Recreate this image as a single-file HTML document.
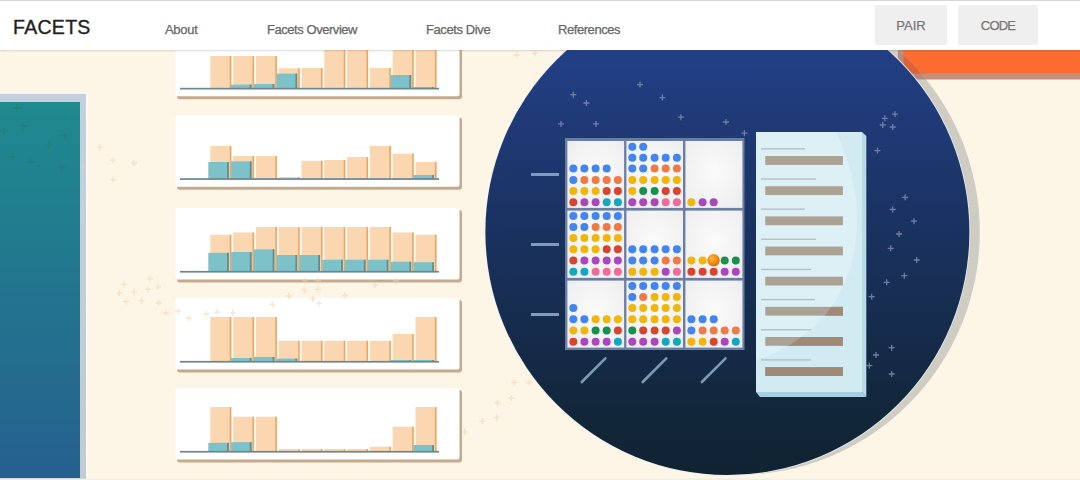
<!DOCTYPE html>
<html><head><meta charset="utf-8"><style>
html,body{margin:0;padding:0;}
body{width:1080px;height:480px;overflow:hidden;background:#fdf5e6;position:relative;font-family:"Liberation Sans",sans-serif;}
svg{position:absolute;left:0;top:0;}
#hdr{position:absolute;left:0;top:0;width:1080px;height:50px;background:#fff;border-top:1px solid #d6d6d6;box-sizing:border-box;box-shadow:0 1px 1.5px rgba(80,80,80,0.22);}
#logo{position:absolute;left:13px;top:15px;font-size:19.5px;color:#222;letter-spacing:0.3px;-webkit-text-stroke:0.35px #222;}
.nav{position:absolute;top:21px;font-size:13px;color:#666;-webkit-text-stroke:0.25px #666;}
.btn{position:absolute;top:4px;height:40px;background:#efefef;border-radius:2px;color:#767676;font-size:13px;-webkit-text-stroke:0.25px #767676;text-align:center;line-height:41px;}
</style></head><body>
<svg width="1080" height="480" viewBox="0 0 1080 480">
<defs>
<linearGradient id="bg1" x1="0" y1="0" x2="0" y2="1">
<stop offset="0" stop-color="#24438f"/><stop offset="0.13" stop-color="#223f85"/>
<stop offset="0.55" stop-color="#19305a"/><stop offset="0.92" stop-color="#112536"/><stop offset="1" stop-color="#0f2333"/>
</linearGradient>
<linearGradient id="tg" x1="0" y1="0" x2="0" y2="1">
<stop offset="0" stop-color="#1f8a8f"/><stop offset="1" stop-color="#26608e"/>
</linearGradient>
<radialGradient id="ball" cx="0.38" cy="0.35" r="0.7">
<stop offset="0" stop-color="#f9b43a"/><stop offset="0.6" stop-color="#f08a12"/><stop offset="1" stop-color="#dc6410"/>
</radialGradient>
<radialGradient id="cellg" cx="0.5" cy="0.45" r="0.7">
<stop offset="0" stop-color="#fbfbfb"/><stop offset="1" stop-color="#ededed"/>
</radialGradient>
<linearGradient id="bordg" x1="0" y1="0" x2="0" y2="1"><stop offset="0" stop-color="#c5cfde"/><stop offset="1" stop-color="#c4cbcb"/></linearGradient>
<clipPath id="docclip"><rect x="756" y="132" width="106" height="260"/></clipPath>
</defs>
<rect x="0" y="92.2" width="87.5" height="388" fill="#fbfbf8"/><rect x="0" y="93.8" width="86" height="386" fill="url(#bordg)"/>
<rect x="0" y="102" width="80" height="376" fill="url(#tg)"/>
<rect x="0" y="478.7" width="1080" height="1.3" fill="#efeeea"/>
<rect x="177" y="27" width="285" height="72.3" rx="3" fill="#c5ab8e"/>
<rect x="175.5" y="25" width="284" height="71.3" rx="2" fill="#ffffff"/>
<rect x="210.3" y="56" width="21" height="32.6" fill="#fad6b1"/>
<rect x="229.7" y="56" width="1.6" height="32.6" fill="#f0a660"/>
<rect x="233.1" y="56" width="21" height="32.6" fill="#fad6b1"/>
<rect x="252.5" y="56" width="1.6" height="32.6" fill="#f0a660"/>
<rect x="255.9" y="56" width="21" height="32.6" fill="#fad6b1"/>
<rect x="275.3" y="56" width="1.6" height="32.6" fill="#f0a660"/>
<rect x="278.7" y="68.3" width="21" height="20.3" fill="#fad6b1"/>
<rect x="298.1" y="68.3" width="1.6" height="20.3" fill="#f0a660"/>
<rect x="301.5" y="68" width="21" height="20.6" fill="#fad6b1"/>
<rect x="320.9" y="68" width="1.6" height="20.6" fill="#f0a660"/>
<rect x="324.3" y="28.6" width="21" height="60" fill="#fad6b1"/>
<rect x="343.7" y="28.6" width="1.6" height="60" fill="#f0a660"/>
<rect x="347.1" y="28.6" width="21" height="60" fill="#fad6b1"/>
<rect x="366.5" y="28.6" width="1.6" height="60" fill="#f0a660"/>
<rect x="369.9" y="68" width="21" height="20.6" fill="#fad6b1"/>
<rect x="389.3" y="68" width="1.6" height="20.6" fill="#f0a660"/>
<rect x="392.7" y="28.6" width="21" height="60" fill="#fad6b1"/>
<rect x="412.1" y="28.6" width="1.6" height="60" fill="#f0a660"/>
<rect x="415.5" y="28.6" width="21" height="60" fill="#fad6b1"/>
<rect x="434.9" y="28.6" width="1.6" height="60" fill="#f0a660"/>
<rect x="231.1" y="84.6" width="20.5" height="4" fill="#7dc2c8"/>
<rect x="249.8" y="84.6" width="1.8" height="4" fill="#5b8f94"/>
<rect x="253.9" y="84" width="20.5" height="4.6" fill="#7dc2c8"/>
<rect x="272.6" y="84" width="1.8" height="4.6" fill="#5b8f94"/>
<rect x="276.7" y="73.6" width="20.5" height="15" fill="#7dc2c8"/>
<rect x="295.4" y="73.6" width="1.8" height="15" fill="#5b8f94"/>
<rect x="390.7" y="75" width="20.5" height="13.6" fill="#7dc2c8"/>
<rect x="409.4" y="75" width="1.8" height="13.6" fill="#5b8f94"/>
<rect x="413.5" y="87" width="20.5" height="1.6" fill="#7dc2c8"/>
<rect x="432.2" y="87" width="1.8" height="1.6" fill="#5b8f94"/>
<rect x="180" y="87.8" width="259" height="1.7" fill="#6a8594"/>
<rect x="177" y="117.4" width="285" height="72.3" rx="3" fill="#c5ab8e"/>
<rect x="175.5" y="115.4" width="284" height="71.3" rx="2" fill="#ffffff"/>
<rect x="210.3" y="146" width="21" height="33" fill="#fad6b1"/>
<rect x="229.7" y="146" width="1.6" height="33" fill="#f0a660"/>
<rect x="233.1" y="156" width="21" height="23" fill="#fad6b1"/>
<rect x="252.5" y="156" width="1.6" height="23" fill="#f0a660"/>
<rect x="255.9" y="156" width="21" height="23" fill="#fad6b1"/>
<rect x="275.3" y="156" width="1.6" height="23" fill="#f0a660"/>
<rect x="278.7" y="177" width="21" height="2" fill="#fad6b1"/>
<rect x="298.1" y="177" width="1.6" height="2" fill="#f0a660"/>
<rect x="301.5" y="160.8" width="21" height="18.2" fill="#fad6b1"/>
<rect x="320.9" y="160.8" width="1.6" height="18.2" fill="#f0a660"/>
<rect x="324.3" y="160" width="21" height="19" fill="#fad6b1"/>
<rect x="343.7" y="160" width="1.6" height="19" fill="#f0a660"/>
<rect x="347.1" y="157" width="21" height="22" fill="#fad6b1"/>
<rect x="366.5" y="157" width="1.6" height="22" fill="#f0a660"/>
<rect x="369.9" y="146" width="21" height="33" fill="#fad6b1"/>
<rect x="389.3" y="146" width="1.6" height="33" fill="#f0a660"/>
<rect x="392.7" y="153.7" width="21" height="25.3" fill="#fad6b1"/>
<rect x="412.1" y="153.7" width="1.6" height="25.3" fill="#f0a660"/>
<rect x="415.5" y="162" width="21" height="17" fill="#fad6b1"/>
<rect x="434.9" y="162" width="1.6" height="17" fill="#f0a660"/>
<rect x="208.3" y="162" width="20.5" height="17" fill="#7dc2c8"/>
<rect x="227" y="162" width="1.8" height="17" fill="#5b8f94"/>
<rect x="231.1" y="161.4" width="20.5" height="17.6" fill="#7dc2c8"/>
<rect x="249.8" y="161.4" width="1.8" height="17.6" fill="#5b8f94"/>
<rect x="413.5" y="175" width="20.5" height="4" fill="#7dc2c8"/>
<rect x="432.2" y="175" width="1.8" height="4" fill="#5b8f94"/>
<rect x="180" y="178.2" width="259" height="1.7" fill="#6a8594"/>
<rect x="177" y="210.1" width="285" height="72.3" rx="3" fill="#c5ab8e"/>
<rect x="175.5" y="208.1" width="284" height="71.3" rx="2" fill="#ffffff"/>
<rect x="210.3" y="234.7" width="21" height="37" fill="#fad6b1"/>
<rect x="229.7" y="234.7" width="1.6" height="37" fill="#f0a660"/>
<rect x="233.1" y="232.5" width="21" height="39.2" fill="#fad6b1"/>
<rect x="252.5" y="232.5" width="1.6" height="39.2" fill="#f0a660"/>
<rect x="255.9" y="227" width="21" height="44.7" fill="#fad6b1"/>
<rect x="275.3" y="227" width="1.6" height="44.7" fill="#f0a660"/>
<rect x="278.7" y="227" width="21" height="44.7" fill="#fad6b1"/>
<rect x="298.1" y="227" width="1.6" height="44.7" fill="#f0a660"/>
<rect x="301.5" y="227" width="21" height="44.7" fill="#fad6b1"/>
<rect x="320.9" y="227" width="1.6" height="44.7" fill="#f0a660"/>
<rect x="324.3" y="227" width="21" height="44.7" fill="#fad6b1"/>
<rect x="343.7" y="227" width="1.6" height="44.7" fill="#f0a660"/>
<rect x="347.1" y="227" width="21" height="44.7" fill="#fad6b1"/>
<rect x="366.5" y="227" width="1.6" height="44.7" fill="#f0a660"/>
<rect x="369.9" y="227" width="21" height="44.7" fill="#fad6b1"/>
<rect x="389.3" y="227" width="1.6" height="44.7" fill="#f0a660"/>
<rect x="392.7" y="232.5" width="21" height="39.2" fill="#fad6b1"/>
<rect x="412.1" y="232.5" width="1.6" height="39.2" fill="#f0a660"/>
<rect x="415.5" y="234.7" width="21" height="37" fill="#fad6b1"/>
<rect x="434.9" y="234.7" width="1.6" height="37" fill="#f0a660"/>
<rect x="208.3" y="252.8" width="20.5" height="18.9" fill="#7dc2c8"/>
<rect x="227" y="252.8" width="1.8" height="18.9" fill="#5b8f94"/>
<rect x="231.1" y="252" width="20.5" height="19.7" fill="#7dc2c8"/>
<rect x="249.8" y="252" width="1.8" height="19.7" fill="#5b8f94"/>
<rect x="253.9" y="249.4" width="20.5" height="22.3" fill="#7dc2c8"/>
<rect x="272.6" y="249.4" width="1.8" height="22.3" fill="#5b8f94"/>
<rect x="276.7" y="255" width="20.5" height="16.7" fill="#7dc2c8"/>
<rect x="295.4" y="255" width="1.8" height="16.7" fill="#5b8f94"/>
<rect x="299.5" y="255" width="20.5" height="16.7" fill="#7dc2c8"/>
<rect x="318.2" y="255" width="1.8" height="16.7" fill="#5b8f94"/>
<rect x="322.3" y="259.7" width="20.5" height="12" fill="#7dc2c8"/>
<rect x="341" y="259.7" width="1.8" height="12" fill="#5b8f94"/>
<rect x="345.1" y="259.7" width="20.5" height="12" fill="#7dc2c8"/>
<rect x="363.8" y="259.7" width="1.8" height="12" fill="#5b8f94"/>
<rect x="367.9" y="259.7" width="20.5" height="12" fill="#7dc2c8"/>
<rect x="386.6" y="259.7" width="1.8" height="12" fill="#5b8f94"/>
<rect x="390.7" y="261.7" width="20.5" height="10" fill="#7dc2c8"/>
<rect x="409.4" y="261.7" width="1.8" height="10" fill="#5b8f94"/>
<rect x="413.5" y="262.2" width="20.5" height="9.5" fill="#7dc2c8"/>
<rect x="432.2" y="262.2" width="1.8" height="9.5" fill="#5b8f94"/>
<rect x="180" y="270.9" width="259" height="1.7" fill="#6a8594"/>
<rect x="177" y="300.1" width="285" height="72.3" rx="3" fill="#c5ab8e"/>
<rect x="175.5" y="298.1" width="284" height="71.3" rx="2" fill="#ffffff"/>
<rect x="210.3" y="317" width="21" height="44.7" fill="#fad6b1"/>
<rect x="229.7" y="317" width="1.6" height="44.7" fill="#f0a660"/>
<rect x="233.1" y="317" width="21" height="44.7" fill="#fad6b1"/>
<rect x="252.5" y="317" width="1.6" height="44.7" fill="#f0a660"/>
<rect x="255.9" y="317" width="21" height="44.7" fill="#fad6b1"/>
<rect x="275.3" y="317" width="1.6" height="44.7" fill="#f0a660"/>
<rect x="278.7" y="340.8" width="21" height="20.9" fill="#fad6b1"/>
<rect x="298.1" y="340.8" width="1.6" height="20.9" fill="#f0a660"/>
<rect x="301.5" y="340.8" width="21" height="20.9" fill="#fad6b1"/>
<rect x="320.9" y="340.8" width="1.6" height="20.9" fill="#f0a660"/>
<rect x="324.3" y="340.8" width="21" height="20.9" fill="#fad6b1"/>
<rect x="343.7" y="340.8" width="1.6" height="20.9" fill="#f0a660"/>
<rect x="347.1" y="340.8" width="21" height="20.9" fill="#fad6b1"/>
<rect x="366.5" y="340.8" width="1.6" height="20.9" fill="#f0a660"/>
<rect x="369.9" y="340.8" width="21" height="20.9" fill="#fad6b1"/>
<rect x="389.3" y="340.8" width="1.6" height="20.9" fill="#f0a660"/>
<rect x="392.7" y="333.9" width="21" height="27.8" fill="#fad6b1"/>
<rect x="412.1" y="333.9" width="1.6" height="27.8" fill="#f0a660"/>
<rect x="415.5" y="317" width="21" height="44.7" fill="#fad6b1"/>
<rect x="434.9" y="317" width="1.6" height="44.7" fill="#f0a660"/>
<rect x="231.1" y="358" width="20.5" height="3.7" fill="#7dc2c8"/>
<rect x="249.8" y="358" width="1.8" height="3.7" fill="#5b8f94"/>
<rect x="253.9" y="357" width="20.5" height="4.7" fill="#7dc2c8"/>
<rect x="272.6" y="357" width="1.8" height="4.7" fill="#5b8f94"/>
<rect x="276.7" y="358.6" width="20.5" height="3.1" fill="#7dc2c8"/>
<rect x="295.4" y="358.6" width="1.8" height="3.1" fill="#5b8f94"/>
<rect x="390.7" y="360" width="20.5" height="1.7" fill="#7dc2c8"/>
<rect x="409.4" y="360" width="1.8" height="1.7" fill="#5b8f94"/>
<rect x="413.5" y="360" width="20.5" height="1.7" fill="#7dc2c8"/>
<rect x="432.2" y="360" width="1.8" height="1.7" fill="#5b8f94"/>
<rect x="180" y="360.9" width="259" height="1.7" fill="#6a8594"/>
<rect x="177" y="390.1" width="285" height="72.3" rx="3" fill="#c5ab8e"/>
<rect x="175.5" y="388.1" width="284" height="71.3" rx="2" fill="#ffffff"/>
<rect x="210.3" y="407" width="21" height="44.7" fill="#fad6b1"/>
<rect x="229.7" y="407" width="1.6" height="44.7" fill="#f0a660"/>
<rect x="233.1" y="416.7" width="21" height="35" fill="#fad6b1"/>
<rect x="252.5" y="416.7" width="1.6" height="35" fill="#f0a660"/>
<rect x="255.9" y="416.7" width="21" height="35" fill="#fad6b1"/>
<rect x="275.3" y="416.7" width="1.6" height="35" fill="#f0a660"/>
<rect x="278.7" y="449" width="21" height="2.7" fill="#fad6b1"/>
<rect x="298.1" y="449" width="1.6" height="2.7" fill="#f0a660"/>
<rect x="301.5" y="449" width="21" height="2.7" fill="#fad6b1"/>
<rect x="320.9" y="449" width="1.6" height="2.7" fill="#f0a660"/>
<rect x="324.3" y="449" width="21" height="2.7" fill="#fad6b1"/>
<rect x="343.7" y="449" width="1.6" height="2.7" fill="#f0a660"/>
<rect x="347.1" y="449" width="21" height="2.7" fill="#fad6b1"/>
<rect x="366.5" y="449" width="1.6" height="2.7" fill="#f0a660"/>
<rect x="369.9" y="446.7" width="21" height="5" fill="#fad6b1"/>
<rect x="389.3" y="446.7" width="1.6" height="5" fill="#f0a660"/>
<rect x="392.7" y="426.7" width="21" height="25" fill="#fad6b1"/>
<rect x="412.1" y="426.7" width="1.6" height="25" fill="#f0a660"/>
<rect x="415.5" y="407" width="21" height="44.7" fill="#fad6b1"/>
<rect x="434.9" y="407" width="1.6" height="44.7" fill="#f0a660"/>
<rect x="208.3" y="442.8" width="20.5" height="8.9" fill="#7dc2c8"/>
<rect x="227" y="442.8" width="1.8" height="8.9" fill="#5b8f94"/>
<rect x="231.1" y="442.2" width="20.5" height="9.5" fill="#7dc2c8"/>
<rect x="249.8" y="442.2" width="1.8" height="9.5" fill="#5b8f94"/>
<rect x="413.5" y="445" width="20.5" height="6.7" fill="#7dc2c8"/>
<rect x="432.2" y="445" width="1.8" height="6.7" fill="#5b8f94"/>
<rect x="180" y="450.9" width="259" height="1.7" fill="#6a8594"/>
<path d="M96.7 147.2h6M99.7 144.2v6" stroke="#efd2ad" stroke-width="1.3" opacity="0.55"/>
<path d="M110 160.2h6M113 157.2v6" stroke="#efd2ad" stroke-width="1.3" opacity="0.55"/>
<path d="M131 163h6M134 160v6" stroke="#efd2ad" stroke-width="1.3" opacity="0.55"/>
<path d="M110 179.6h6M113 176.6v6" stroke="#efd2ad" stroke-width="1.3" opacity="0.55"/>
<path d="M80.3 165.8h6M83.3 162.8v6" stroke="#efd2ad" stroke-width="1.3" opacity="0.55"/>
<path d="M511.2 382.5h6M514.2 379.5v6" stroke="#efd2ad" stroke-width="1.3" opacity="0.55"/>
<path d="M526.2 382.5h6M529.2 379.5v6" stroke="#efd2ad" stroke-width="1.3" opacity="0.55"/>
<path d="M508.3 398h6M511.3 395v6" stroke="#efd2ad" stroke-width="1.3" opacity="0.55"/>
<path d="M494.5 403h6M497.5 400v6" stroke="#efd2ad" stroke-width="1.3" opacity="0.55"/>
<path d="M493.7 417.5h6M496.7 414.5v6" stroke="#efd2ad" stroke-width="1.3" opacity="0.55"/>
<path d="M479.5 421.3h6M482.5 418.3v6" stroke="#efd2ad" stroke-width="1.3" opacity="0.55"/>
<path d="M461.7 432h6M464.7 429v6" stroke="#efd2ad" stroke-width="1.3" opacity="0.55"/>
<path d="M146.9 278.8h6M149.9 275.8v6" stroke="#efd2ad" stroke-width="1.3" opacity="0.55"/>
<path d="M121 284.3h6M124 281.3v6" stroke="#efd2ad" stroke-width="1.3" opacity="0.55"/>
<path d="M155 286.9h6M158 283.9v6" stroke="#efd2ad" stroke-width="1.3" opacity="0.55"/>
<path d="M145 289.4h6M148 286.4v6" stroke="#efd2ad" stroke-width="1.3" opacity="0.55"/>
<path d="M116.4 293h6M119.4 290v6" stroke="#efd2ad" stroke-width="1.3" opacity="0.55"/>
<path d="M131 292.3h6M134 289.3v6" stroke="#efd2ad" stroke-width="1.3" opacity="0.55"/>
<path d="M123 301.4h6M126 298.4v6" stroke="#efd2ad" stroke-width="1.3" opacity="0.55"/>
<path d="M138.5 300.9h6M141.5 297.9v6" stroke="#efd2ad" stroke-width="1.3" opacity="0.55"/>
<path d="M155.6 303h6M158.6 300v6" stroke="#efd2ad" stroke-width="1.3" opacity="0.55"/>
<path d="M163 312.8h6M166 309.8v6" stroke="#efd2ad" stroke-width="1.3" opacity="0.55"/>
<path d="M175.4 311.2h6M178.4 308.2v6" stroke="#efd2ad" stroke-width="1.3" opacity="0.55"/>
<path d="M185.8 318.2h6M188.8 315.2v6" stroke="#efd2ad" stroke-width="1.3" opacity="0.55"/>
<path d="M203.3 314h6M206.3 311v6" stroke="#efd2ad" stroke-width="1.3" opacity="0.55"/>
<path d="M214.3 312h6M217.3 309v6" stroke="#efd2ad" stroke-width="1.3" opacity="0.55"/>
<path d="M229.9 312.8h6M232.9 309.8v6" stroke="#efd2ad" stroke-width="1.3" opacity="0.55"/>
<path d="M513.7 55h6M516.7 52v6" stroke="#efd2ad" stroke-width="1.3" opacity="0.55"/>
<path d="M532 53.3h6M535 50.3v6" stroke="#efd2ad" stroke-width="1.3" opacity="0.55"/>
<path d="M301.3 290.2h6M304.3 287.2v6" stroke="#efd2ad" stroke-width="1.3" opacity="0.55"/>
<path d="M314.7 289.4h6M317.7 286.4v6" stroke="#efd2ad" stroke-width="1.3" opacity="0.55"/>
<path d="M285.7 296h6M288.7 293v6" stroke="#efd2ad" stroke-width="1.3" opacity="0.55"/>
<path d="M309.8 299h6M312.8 296v6" stroke="#efd2ad" stroke-width="1.3" opacity="0.55"/>
<path d="M269.3 304.5h6M272.3 301.5v6" stroke="#efd2ad" stroke-width="1.3" opacity="0.55"/>
<path d="M316 303.4h6M319 300.4v6" stroke="#efd2ad" stroke-width="1.3" opacity="0.55"/>
<path d="M342 295.5h6M345 292.5v6" stroke="#efd2ad" stroke-width="1.3" opacity="0.55"/>
<path d="M372 285h6M375 282v6" stroke="#efd2ad" stroke-width="1.3" opacity="0.55"/>
<path d="M302 280.5h6M305 277.5v6" stroke="#efd2ad" stroke-width="1.3" opacity="0.55"/>
<path d="M315 280.5h6M318 277.5v6" stroke="#efd2ad" stroke-width="1.3" opacity="0.55"/>
<path d="M393 281h6M396 278v6" stroke="#efd2ad" stroke-width="1.3" opacity="0.55"/>
<path d="M13.2 108h7M16.7 104.5v7" stroke="#2a7a70" stroke-width="1.4" opacity="0.7"/>
<path d="M19.8 125.8h7M23.3 122.3v7" stroke="#2a7a70" stroke-width="1.4" opacity="0.7"/>
<path d="M0.7 131.3h7M4.2 127.8v7" stroke="#2a7a70" stroke-width="1.4" opacity="0.7"/>
<path d="M61.5 135.8h7M65 132.3v7" stroke="#2a7a70" stroke-width="1.4" opacity="0.7"/>
<path d="M45.7 145.3h7M49.2 141.8v7" stroke="#2a7a70" stroke-width="1.4" opacity="0.7"/>
<path d="M9 156.7h7M12.5 153.2v7" stroke="#2a7a70" stroke-width="1.4" opacity="0.7"/>
<path d="M27.3 162h7M30.8 158.5v7" stroke="#2a7a70" stroke-width="1.4" opacity="0.7"/>
<path d="M58.2 167.5h7M61.7 164v7" stroke="#2a7a70" stroke-width="1.4" opacity="0.7"/>
<rect x="898" y="40" width="182" height="39.5" fill="#c48f80"/>
<rect x="903.5" y="40" width="176.5" height="33.6" fill="#fc6b2f"/>
<ellipse cx="737.8" cy="232" rx="242" ry="243" fill="#cfccc4"/>
<clipPath id="ringc"><ellipse cx="737.8" cy="232" rx="242" ry="243"/></clipPath>
<g clip-path="url(#ringc)"><rect x="898" y="40" width="182" height="39.5" fill="#b88a7c"/><rect x="903.5" y="40" width="176.5" height="33.6" fill="#dc6238"/></g>
<ellipse cx="727.4" cy="232" rx="242.8" ry="243.8" fill="#e9edf0"/><ellipse cx="727.4" cy="232" rx="242" ry="243" fill="url(#bg1)"/>
<path d="M570.3 94.7h6M573.3 91.7v6" stroke="#7f8bb0" stroke-width="1.3" opacity="0.85"/>
<path d="M583.4 103h6M586.4 100v6" stroke="#7f8bb0" stroke-width="1.3" opacity="0.85"/>
<path d="M637 84.6h6M640 81.6v6" stroke="#7f8bb0" stroke-width="1.3" opacity="0.85"/>
<path d="M659.4 97.6h6M662.4 94.6v6" stroke="#7f8bb0" stroke-width="1.3" opacity="0.85"/>
<path d="M558 123.9h6M561 120.9v6" stroke="#7f8bb0" stroke-width="1.3" opacity="0.85"/>
<path d="M593 123.9h6M596 120.9v6" stroke="#7f8bb0" stroke-width="1.3" opacity="0.85"/>
<path d="M677.9 117.2h6M680.9 114.2v6" stroke="#7f8bb0" stroke-width="1.3" opacity="0.85"/>
<path d="M723 122h6M726 119v6" stroke="#7f8bb0" stroke-width="1.3" opacity="0.85"/>
<path d="M741.4 133.2h6M744.4 130.2v6" stroke="#7f8bb0" stroke-width="1.3" opacity="0.85"/>
<path d="M892 114.2h6M895 111.2v6" stroke="#7f8bb0" stroke-width="1.3" opacity="0.85"/>
<path d="M881.8 118.3h6M884.8 115.3v6" stroke="#7f8bb0" stroke-width="1.3" opacity="0.85"/>
<path d="M879.7 125h6M882.7 122v6" stroke="#7f8bb0" stroke-width="1.3" opacity="0.85"/>
<path d="M889.7 127h6M892.7 124v6" stroke="#7f8bb0" stroke-width="1.3" opacity="0.85"/>
<path d="M874.5 150.6h6M877.5 147.6v6" stroke="#7f8bb0" stroke-width="1.3" opacity="0.85"/>
<path d="M902.2 197.3h6M905.2 194.3v6" stroke="#7f8bb0" stroke-width="1.3" opacity="0.85"/>
<path d="M889.7 209.5h6M892.7 206.5v6" stroke="#7f8bb0" stroke-width="1.3" opacity="0.85"/>
<path d="M911 221.2h6M914 218.2v6" stroke="#7f8bb0" stroke-width="1.3" opacity="0.85"/>
<path d="M896 234h6M899 231v6" stroke="#7f8bb0" stroke-width="1.3" opacity="0.85"/>
<path d="M887.7 248.3h6M890.7 245.3v6" stroke="#7f8bb0" stroke-width="1.3" opacity="0.85"/>
<path d="M913.7 260h6M916.7 257v6" stroke="#7f8bb0" stroke-width="1.3" opacity="0.85"/>
<path d="M901.3 275.7h6M904.3 272.7v6" stroke="#7f8bb0" stroke-width="1.3" opacity="0.85"/>
<path d="M883.7 282.3h6M886.7 279.3v6" stroke="#7f8bb0" stroke-width="1.3" opacity="0.85"/>
<path d="M868.7 296.7h6M871.7 293.7v6" stroke="#7f8bb0" stroke-width="1.3" opacity="0.85"/>
<path d="M888.7 347.7h6M891.7 344.7v6" stroke="#7f8bb0" stroke-width="1.3" opacity="0.85"/>
<path d="M873 355h6M876 352v6" stroke="#7f8bb0" stroke-width="1.3" opacity="0.85"/>
<path d="M866.3 365.7h6M869.3 362.7v6" stroke="#7f8bb0" stroke-width="1.3" opacity="0.85"/>
<path d="M888.7 374h6M891.7 371v6" stroke="#7f8bb0" stroke-width="1.3" opacity="0.85"/>
<rect x="531" y="173" width="28" height="3" fill="#7f9cbf"/>
<rect x="531" y="243" width="28" height="3" fill="#7f9cbf"/>
<rect x="531" y="313" width="28" height="3" fill="#7f9cbf"/>
<line x1="581.8" y1="382" x2="605.4" y2="358.4" stroke="#7d9bb2" stroke-width="2.6" stroke-linecap="round"/>
<line x1="642.7" y1="382" x2="666.3" y2="358.4" stroke="#7d9bb2" stroke-width="2.6" stroke-linecap="round"/>
<line x1="701.9" y1="382" x2="725.5" y2="358.4" stroke="#7d9bb2" stroke-width="2.6" stroke-linecap="round"/>
<rect x="565" y="138" width="179.5" height="212" fill="#6a7ea4"/>
<rect x="567.4" y="141" width="56.7" height="66.9" fill="url(#cellg)"/>
<rect x="626.4" y="141" width="56.6" height="66.9" fill="url(#cellg)"/>
<rect x="685.4" y="141" width="57" height="66.9" fill="url(#cellg)"/>
<rect x="567.4" y="210.6" width="56.7" height="67.3" fill="url(#cellg)"/>
<rect x="626.4" y="210.6" width="56.6" height="67.3" fill="url(#cellg)"/>
<rect x="685.4" y="210.6" width="57" height="67.3" fill="url(#cellg)"/>
<rect x="567.4" y="280.6" width="56.7" height="67" fill="url(#cellg)"/>
<rect x="626.4" y="280.6" width="56.6" height="67" fill="url(#cellg)"/>
<rect x="685.4" y="280.6" width="57" height="67" fill="url(#cellg)"/>
<circle cx="573.3" cy="168.6" r="4" fill="#4385f0"/>
<circle cx="584.4" cy="168.6" r="4" fill="#4385f0"/>
<circle cx="595.6" cy="168.6" r="4" fill="#4385f0"/>
<circle cx="606.7" cy="168.6" r="4" fill="#4385f0"/>
<circle cx="573.3" cy="179.9" r="4" fill="#4385f0"/>
<circle cx="584.4" cy="179.9" r="4" fill="#ef7a45"/>
<circle cx="595.6" cy="179.9" r="4" fill="#ef7a45"/>
<circle cx="606.7" cy="179.9" r="4" fill="#ef7a45"/>
<circle cx="617.9" cy="179.9" r="4" fill="#ef7a45"/>
<circle cx="573.3" cy="191.1" r="4" fill="#f1b60c"/>
<circle cx="584.4" cy="191.1" r="4" fill="#f1b60c"/>
<circle cx="595.6" cy="191.1" r="4" fill="#f1b60c"/>
<circle cx="606.7" cy="191.1" r="4" fill="#d5452f"/>
<circle cx="617.9" cy="191.1" r="4" fill="#d5452f"/>
<circle cx="573.3" cy="202.3" r="4" fill="#d5452f"/>
<circle cx="584.4" cy="202.3" r="4" fill="#aa47bc"/>
<circle cx="595.6" cy="202.3" r="4" fill="#aa47bc"/>
<circle cx="606.7" cy="202.3" r="4" fill="#12a8bd"/>
<circle cx="617.9" cy="202.3" r="4" fill="#12a8bd"/>
<circle cx="632.3" cy="146.8" r="4" fill="#4385f0"/>
<circle cx="643.2" cy="146.8" r="4" fill="#4385f0"/>
<circle cx="632.3" cy="157.8" r="4" fill="#4385f0"/>
<circle cx="643.2" cy="157.8" r="4" fill="#4385f0"/>
<circle cx="654.6" cy="157.8" r="4" fill="#4385f0"/>
<circle cx="665.7" cy="157.8" r="4" fill="#4385f0"/>
<circle cx="676.9" cy="157.8" r="4" fill="#4385f0"/>
<circle cx="632.3" cy="168.6" r="4" fill="#4385f0"/>
<circle cx="643.2" cy="168.6" r="4" fill="#4385f0"/>
<circle cx="654.6" cy="168.6" r="4" fill="#ef7a45"/>
<circle cx="665.7" cy="168.6" r="4" fill="#ef7a45"/>
<circle cx="676.9" cy="168.6" r="4" fill="#ef7a45"/>
<circle cx="632.3" cy="179.9" r="4" fill="#f1b60c"/>
<circle cx="643.2" cy="179.9" r="4" fill="#f1b60c"/>
<circle cx="654.6" cy="179.9" r="4" fill="#f1b60c"/>
<circle cx="665.7" cy="179.9" r="4" fill="#f1b60c"/>
<circle cx="676.9" cy="179.9" r="4" fill="#f1b60c"/>
<circle cx="632.3" cy="191.1" r="4" fill="#f1b60c"/>
<circle cx="643.2" cy="191.1" r="4" fill="#16924e"/>
<circle cx="654.6" cy="191.1" r="4" fill="#16924e"/>
<circle cx="665.7" cy="191.1" r="4" fill="#d5452f"/>
<circle cx="676.9" cy="191.1" r="4" fill="#d5452f"/>
<circle cx="632.3" cy="202.3" r="4" fill="#aa47bc"/>
<circle cx="643.2" cy="202.3" r="4" fill="#aa47bc"/>
<circle cx="654.6" cy="202.3" r="4" fill="#aa47bc"/>
<circle cx="665.7" cy="202.3" r="4" fill="#ec6c9a"/>
<circle cx="676.9" cy="202.3" r="4" fill="#ec6c9a"/>
<circle cx="691.4" cy="202.3" r="4" fill="#f1b60c"/>
<circle cx="702.6" cy="202.3" r="4" fill="#aa47bc"/>
<circle cx="713.7" cy="202.3" r="4" fill="#aa47bc"/>
<circle cx="573.3" cy="215.9" r="4" fill="#4385f0"/>
<circle cx="584.4" cy="215.9" r="4" fill="#4385f0"/>
<circle cx="595.6" cy="215.9" r="4" fill="#4385f0"/>
<circle cx="606.7" cy="215.9" r="4" fill="#4385f0"/>
<circle cx="617.9" cy="215.9" r="4" fill="#4385f0"/>
<circle cx="573.3" cy="227.1" r="4" fill="#4385f0"/>
<circle cx="584.4" cy="227.1" r="4" fill="#4385f0"/>
<circle cx="595.6" cy="227.1" r="4" fill="#ef7a45"/>
<circle cx="606.7" cy="227.1" r="4" fill="#ef7a45"/>
<circle cx="617.9" cy="227.1" r="4" fill="#ef7a45"/>
<circle cx="573.3" cy="238.1" r="4" fill="#f1b60c"/>
<circle cx="584.4" cy="238.1" r="4" fill="#f1b60c"/>
<circle cx="595.6" cy="238.1" r="4" fill="#f1b60c"/>
<circle cx="606.7" cy="238.1" r="4" fill="#f1b60c"/>
<circle cx="617.9" cy="238.1" r="4" fill="#f1b60c"/>
<circle cx="573.3" cy="249.2" r="4" fill="#f1b60c"/>
<circle cx="584.4" cy="249.2" r="4" fill="#f1b60c"/>
<circle cx="595.6" cy="249.2" r="4" fill="#f1b60c"/>
<circle cx="606.7" cy="249.2" r="4" fill="#d5452f"/>
<circle cx="617.9" cy="249.2" r="4" fill="#d5452f"/>
<circle cx="573.3" cy="260.6" r="4" fill="#d5452f"/>
<circle cx="584.4" cy="260.6" r="4" fill="#aa47bc"/>
<circle cx="595.6" cy="260.6" r="4" fill="#aa47bc"/>
<circle cx="606.7" cy="260.6" r="4" fill="#aa47bc"/>
<circle cx="617.9" cy="260.6" r="4" fill="#aa47bc"/>
<circle cx="573.3" cy="271.7" r="4" fill="#12a8bd"/>
<circle cx="584.4" cy="271.7" r="4" fill="#12a8bd"/>
<circle cx="595.6" cy="271.7" r="4" fill="#ec6c9a"/>
<circle cx="606.7" cy="271.7" r="4" fill="#ec6c9a"/>
<circle cx="617.9" cy="271.7" r="4" fill="#ec6c9a"/>
<circle cx="632.3" cy="249.2" r="4" fill="#4385f0"/>
<circle cx="643.2" cy="249.2" r="4" fill="#4385f0"/>
<circle cx="654.6" cy="249.2" r="4" fill="#4385f0"/>
<circle cx="665.7" cy="249.2" r="4" fill="#4385f0"/>
<circle cx="676.9" cy="249.2" r="4" fill="#4385f0"/>
<circle cx="632.3" cy="260.6" r="4" fill="#4385f0"/>
<circle cx="643.2" cy="260.6" r="4" fill="#4385f0"/>
<circle cx="654.6" cy="260.6" r="4" fill="#4385f0"/>
<circle cx="665.7" cy="260.6" r="4" fill="#ef7a45"/>
<circle cx="676.9" cy="260.6" r="4" fill="#ef7a45"/>
<circle cx="632.3" cy="271.7" r="4" fill="#f1b60c"/>
<circle cx="643.2" cy="271.7" r="4" fill="#f1b60c"/>
<circle cx="654.6" cy="271.7" r="4" fill="#f1b60c"/>
<circle cx="665.7" cy="271.7" r="4" fill="#aa47bc"/>
<circle cx="676.9" cy="271.7" r="4" fill="#ec6c9a"/>
<circle cx="691.4" cy="260.6" r="4" fill="#f1b60c"/>
<circle cx="702.6" cy="260.6" r="4" fill="#f1b60c"/>
<circle cx="724.7" cy="260.6" r="4" fill="#16924e"/>
<circle cx="735.8" cy="260.6" r="4" fill="#16924e"/>
<circle cx="691.4" cy="271.7" r="4" fill="#d5452f"/>
<circle cx="702.6" cy="271.7" r="4" fill="#d5452f"/>
<circle cx="713.7" cy="271.7" r="4" fill="#d5452f"/>
<circle cx="724.7" cy="271.7" r="4" fill="#aa47bc"/>
<circle cx="735.8" cy="271.7" r="4" fill="#aa47bc"/>
<circle cx="573.3" cy="308.1" r="4" fill="#4385f0"/>
<circle cx="573.3" cy="319.2" r="4" fill="#4385f0"/>
<circle cx="584.4" cy="319.2" r="4" fill="#4385f0"/>
<circle cx="595.6" cy="319.2" r="4" fill="#f1b60c"/>
<circle cx="606.7" cy="319.2" r="4" fill="#f1b60c"/>
<circle cx="617.9" cy="319.2" r="4" fill="#f1b60c"/>
<circle cx="573.3" cy="330.6" r="4" fill="#f1b60c"/>
<circle cx="584.4" cy="330.6" r="4" fill="#f1b60c"/>
<circle cx="595.6" cy="330.6" r="4" fill="#16924e"/>
<circle cx="606.7" cy="330.6" r="4" fill="#16924e"/>
<circle cx="617.9" cy="330.6" r="4" fill="#d5452f"/>
<circle cx="573.3" cy="341.7" r="4" fill="#d5452f"/>
<circle cx="584.4" cy="341.7" r="4" fill="#aa47bc"/>
<circle cx="595.6" cy="341.7" r="4" fill="#aa47bc"/>
<circle cx="606.7" cy="341.7" r="4" fill="#aa47bc"/>
<circle cx="617.9" cy="341.7" r="4" fill="#12a8bd"/>
<circle cx="632.3" cy="285.9" r="4" fill="#4385f0"/>
<circle cx="643.2" cy="285.9" r="4" fill="#4385f0"/>
<circle cx="654.6" cy="285.9" r="4" fill="#4385f0"/>
<circle cx="665.7" cy="285.9" r="4" fill="#4385f0"/>
<circle cx="676.9" cy="285.9" r="4" fill="#4385f0"/>
<circle cx="632.3" cy="297.1" r="4" fill="#4385f0"/>
<circle cx="643.2" cy="297.1" r="4" fill="#ef7a45"/>
<circle cx="654.6" cy="297.1" r="4" fill="#f1b60c"/>
<circle cx="665.7" cy="297.1" r="4" fill="#f1b60c"/>
<circle cx="676.9" cy="297.1" r="4" fill="#f1b60c"/>
<circle cx="632.3" cy="308.1" r="4" fill="#f1b60c"/>
<circle cx="643.2" cy="308.1" r="4" fill="#f1b60c"/>
<circle cx="654.6" cy="308.1" r="4" fill="#f1b60c"/>
<circle cx="665.7" cy="308.1" r="4" fill="#f1b60c"/>
<circle cx="676.9" cy="308.1" r="4" fill="#f1b60c"/>
<circle cx="632.3" cy="319.2" r="4" fill="#f1b60c"/>
<circle cx="643.2" cy="319.2" r="4" fill="#f1b60c"/>
<circle cx="654.6" cy="319.2" r="4" fill="#f1b60c"/>
<circle cx="665.7" cy="319.2" r="4" fill="#f1b60c"/>
<circle cx="676.9" cy="319.2" r="4" fill="#f1b60c"/>
<circle cx="632.3" cy="330.6" r="4" fill="#16924e"/>
<circle cx="643.2" cy="330.6" r="4" fill="#d5452f"/>
<circle cx="654.6" cy="330.6" r="4" fill="#d5452f"/>
<circle cx="665.7" cy="330.6" r="4" fill="#d5452f"/>
<circle cx="676.9" cy="330.6" r="4" fill="#aa47bc"/>
<circle cx="632.3" cy="341.7" r="4" fill="#aa47bc"/>
<circle cx="643.2" cy="341.7" r="4" fill="#aa47bc"/>
<circle cx="654.6" cy="341.7" r="4" fill="#aa47bc"/>
<circle cx="665.7" cy="341.7" r="4" fill="#12a8bd"/>
<circle cx="676.9" cy="341.7" r="4" fill="#12a8bd"/>
<circle cx="691.4" cy="319.2" r="4" fill="#4385f0"/>
<circle cx="702.6" cy="319.2" r="4" fill="#4385f0"/>
<circle cx="713.7" cy="319.2" r="4" fill="#4385f0"/>
<circle cx="691.4" cy="330.6" r="4" fill="#4385f0"/>
<circle cx="702.6" cy="330.6" r="4" fill="#ef7a45"/>
<circle cx="713.7" cy="330.6" r="4" fill="#ef7a45"/>
<circle cx="724.7" cy="330.6" r="4" fill="#ef7a45"/>
<circle cx="735.8" cy="330.6" r="4" fill="#ef7a45"/>
<circle cx="691.4" cy="341.7" r="4" fill="#f1b60c"/>
<circle cx="702.6" cy="341.7" r="4" fill="#f1b60c"/>
<circle cx="713.7" cy="341.7" r="4" fill="#d5452f"/>
<circle cx="724.7" cy="341.7" r="4" fill="#aa47bc"/>
<circle cx="735.8" cy="341.7" r="4" fill="#12a8bd"/>
<circle cx="713.5" cy="260.3" r="6.2" fill="url(#ball)"/>
<path d="M756 392L760 397H866.3L862 392z" fill="#a6cfdf"/>
<path d="M862 132L866.3 136V397L862 392z" fill="#b9dce8"/>
<rect x="756" y="132" width="106" height="260" fill="#dcf0f6"/>
<clipPath id="curl"><path d="M836 132 C 870 200, 875 320, 756 360 L756 392 L862 392 L862 132 Z"/></clipPath>
<path d="M836 132 C 870 200, 875 320, 756 360 L756 392 L862 392 L862 132 Z" fill="#d2eaf2"/>
<rect x="761" y="148.2" width="44" height="1.3" fill="#b4bcc2"/>
<rect x="765.3" y="156.1" width="77.6" height="8.8" fill="#aca195"/>
<rect x="765.3" y="156.1" width="77.6" height="8.8" fill="#a08a76" clip-path="url(#curl)"/>
<rect x="761" y="178.35" width="55" height="1.3" fill="#b4bcc2"/>
<rect x="765.3" y="186.25" width="77.6" height="8.8" fill="#aca195"/>
<rect x="765.3" y="186.25" width="77.6" height="8.8" fill="#a08a76" clip-path="url(#curl)"/>
<rect x="761" y="208.5" width="44" height="1.3" fill="#b4bcc2"/>
<rect x="765.3" y="216.4" width="77.6" height="8.8" fill="#aca195"/>
<rect x="765.3" y="216.4" width="77.6" height="8.8" fill="#a08a76" clip-path="url(#curl)"/>
<rect x="761" y="238.65" width="55" height="1.3" fill="#b4bcc2"/>
<rect x="765.3" y="246.55" width="77.6" height="8.8" fill="#aca195"/>
<rect x="765.3" y="246.55" width="77.6" height="8.8" fill="#a08a76" clip-path="url(#curl)"/>
<rect x="761" y="268.8" width="50" height="1.3" fill="#b4bcc2"/>
<rect x="765.3" y="276.7" width="77.6" height="8.8" fill="#aca195"/>
<rect x="765.3" y="276.7" width="77.6" height="8.8" fill="#a08a76" clip-path="url(#curl)"/>
<rect x="761" y="298.95" width="54" height="1.3" fill="#b4bcc2"/>
<rect x="765.3" y="306.85" width="77.6" height="8.8" fill="#aca195"/>
<rect x="765.3" y="306.85" width="77.6" height="8.8" fill="#a08a76" clip-path="url(#curl)"/>
<rect x="761" y="329.1" width="50" height="1.3" fill="#b4bcc2"/>
<rect x="765.3" y="337" width="77.6" height="8.8" fill="#aca195"/>
<rect x="765.3" y="337" width="77.6" height="8.8" fill="#a08a76" clip-path="url(#curl)"/>
<rect x="761" y="359.25" width="50" height="1.3" fill="#b4bcc2"/>
<rect x="765.3" y="367.15" width="77.6" height="8.8" fill="#aca195"/>
<rect x="765.3" y="367.15" width="77.6" height="8.8" fill="#a08a76" clip-path="url(#curl)"/>
</svg>
<div id="hdr">
<div id="logo">FACETS</div>
<div class="nav" style="left:165px;letter-spacing:-0.3px">About</div>
<div class="nav" style="left:267px;letter-spacing:-0.45px">Facets Overview</div>
<div class="nav" style="left:426px;letter-spacing:-0.4px">Facets Dive</div>
<div class="nav" style="left:558px;letter-spacing:-0.44px">References</div>
<div class="btn" style="left:875px;width:72px;letter-spacing:0px">PAIR</div>
<div class="btn" style="left:958px;width:80px;letter-spacing:-0.8px">CODE</div>
</div>
</body></html>
